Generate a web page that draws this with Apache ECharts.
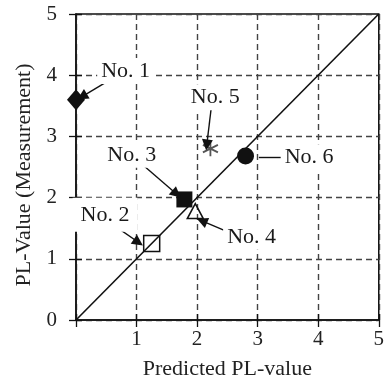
<!DOCTYPE html>
<html>
<head>
<meta charset="utf-8">
<script src="https://cdn.jsdelivr.net/npm/echarts@6/dist/echarts.min.js"></script>
<style>
html,body{margin:0;padding:0;background:#fff}
#chart{width:387px;height:385px}
</style>
</head>
<body>
<div id="chart"></div>
<script>
// measured vs predicted PL values
var pointNames = ['No. 1', 'No. 2', 'No. 3', 'No. 4', 'No. 5', 'No. 6'];
var predicted = [0, 1.25, 1.79, 1.97, 2.22, 2.8];
var measured = [3.6, 1.25, 1.97, 1.78, 2.8, 2.68];
var diagonal = [[0, 0], [5, 5]];
// annotation text positions and leader lines (data units)
var labelAt = [[0.82, 4.07], [0.48, 1.72], [0.92, 2.70], [2.90, 1.36], [2.30, 3.64], [3.85, 2.66]];
var leaderFrom = [[0.54, 3.91], [0.59, 1.57], [1.11, 2.53], [2.44, 1.47], [2.23, 3.44], [3.02, 2.66]];
var leaderTo = [[0.10, 3.65], [1.03, 1.27], [1.66, 2.06], [2.08, 1.62], [2.16, 2.86], [3.39, 2.66]];

var font = 'Liberation Serif';
var asterisk = 'path://M10,0L10,20M1.34,5L18.66,15M1.34,15L18.66,5';
var markerStyle = [
    {symbol: 'diamond', symbolSize: [18, 21], itemStyle: {color: '#111', opacity: 1}},
    {symbol: 'rect', symbolSize: 16, itemStyle: {color: 'rgba(0,0,0,0)', borderColor: '#111', borderWidth: 1.5, opacity: 1}},
    {symbol: 'rect', symbolSize: 16, itemStyle: {color: '#111', opacity: 1}},
    {symbol: 'triangle', symbolSize: [16, 15], itemStyle: {color: 'rgba(0,0,0,0)', borderColor: '#111', borderWidth: 1.5, opacity: 1}},
    {symbol: asterisk, symbolSize: 15, itemStyle: {color: 'none', borderColor: '#555', borderWidth: 1.8, opacity: 1}},
    {symbol: 'circle', symbolSize: 17, itemStyle: {color: '#111', opacity: 1}}
];

var chart = echarts.init(document.getElementById('chart'));

var points = predicted.map(function (x, i) {
    var s = markerStyle[i];
    return {name: pointNames[i], value: [x, measured[i]], symbol: s.symbol, symbolSize: s.symbolSize, itemStyle: s.itemStyle};
});
var labels = labelAt.map(function (p, i) {
    var item = {name: pointNames[i], value: p};
    if (i === 1) item.label = {padding: [6, 8]};
    return item;
});
var leaders = leaderFrom.map(function (p, i) {
    return [{coord: p, symbol: 'none'}, {coord: leaderTo[i], symbol: i === 5 ? 'none' : 'triangle'}];
});

var gridLine = {show: true, lineStyle: {color: '#444', type: [6, 4], width: 1.4}};

var option = {
    animation: false,
    grid: {left: 76, right: 6, top: 14, bottom: 65, show: true, borderColor: '#111', borderWidth: 1.5},
    xAxis: [{
        type: 'value', min: 0, max: 5, interval: 1,
        name: 'Predicted PL-value', nameLocation: 'middle', nameGap: 38,
        nameTextStyle: {fontFamily: font, fontSize: 22, color: '#222'},
        axisLine: {lineStyle: {color: '#111', width: 1.5}},
        axisTick: {show: true, length: 7, lineStyle: {color: '#111', width: 1.3}},
        axisLabel: {fontFamily: font, fontSize: 21, color: '#222', margin: 9,
            formatter: function (v) { return v === 0 ? '' : v; }},
        splitLine: gridLine
    }, {
        type: 'value', min: 0, max: 5, interval: 1, position: 'bottom',
        axisLine: {show: false}, axisLabel: {show: false}, splitLine: {show: false},
        axisTick: {show: true, inside: true, length: 6, lineStyle: {color: '#111', width: 1.3}}
    }],
    yAxis: [{
        type: 'value', min: 0, max: 5, interval: 1,
        name: 'PL-Value (Measurement)', nameLocation: 'middle', nameGap: 40,
        nameTextStyle: {fontFamily: font, fontSize: 22, color: '#222', padding: [0, 16, 0, 0]},
        axisLine: {lineStyle: {color: '#111', width: 1.5}},
        axisTick: {show: true, length: 7, lineStyle: {color: '#111', width: 1.3}},
        axisLabel: {fontFamily: font, fontSize: 21, color: '#222', margin: 19},
        splitLine: gridLine
    }, {
        type: 'value', min: 0, max: 5, interval: 1, position: 'left',
        axisLine: {show: false}, axisLabel: {show: false}, splitLine: {show: false},
        axisTick: {show: true, inside: true, length: 6, lineStyle: {color: '#111', width: 1.3}}
    }],
    series: [
        {
            type: 'line', data: diagonal, symbol: 'none', z: 3,
            lineStyle: {color: '#111', width: 1.6}
        },
        {
            type: 'scatter', data: points, z: 4,
            itemStyle: {opacity: 1}
        },
        {
            type: 'scatter', data: labels, symbolSize: 0, z: 5, silent: true,
            itemStyle: {opacity: 1},
            label: {
                show: true, position: 'inside', formatter: '{b}',
                fontFamily: font, fontSize: 22, color: '#1a1a1a', opacity: 1,
                backgroundColor: '#fff', padding: [2, 4]
            },
            markLine: {
                silent: true, symbolSize: 11, animation: false,
                label: {show: false},
                lineStyle: {color: '#111', width: 1.4, type: 'solid', opacity: 1},
                emphasis: {disabled: true},
                data: leaders
            }
        }
    ]
};
chart.setOption(option);
</script>
</body>
</html>
